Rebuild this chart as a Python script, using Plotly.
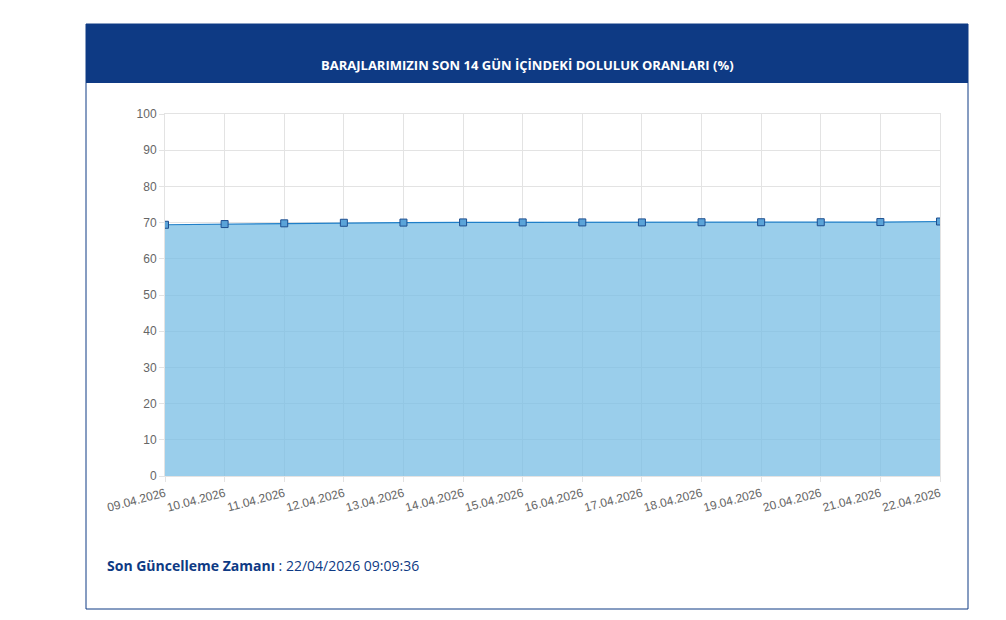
import plotly.graph_objects as go

dates = ["09.04.2026","10.04.2026","11.04.2026","12.04.2026","13.04.2026","14.04.2026","15.04.2026",
         "16.04.2026","17.04.2026","18.04.2026","19.04.2026","20.04.2026","21.04.2026","22.04.2026"]
values = [69.4, 69.6, 69.8, 69.95, 70.0, 70.05, 70.05, 70.05, 70.05, 70.1, 70.1, 70.1, 70.15, 70.3]
yticks = list(range(0, 101, 10))

W, H = 1006, 620
def px(x): return x / W
def py(y): return 1 - y / H

fig = go.Figure(go.Scatter(
    x=dates, y=values, mode="lines+markers", fill="tozeroy",
    fillcolor="rgba(120,190,228,0.75)",
    line=dict(color="#1f7fc8", width=1.2),
    marker=dict(symbol="square", size=7, color="#5aa3d8", line=dict(color="#1f4f8f", width=1)),
    hoverinfo="x+y"))

fig.update_layout(
    width=W, height=H, autosize=False, margin=dict(l=0, r=0, t=0, b=0, pad=0, autoexpand=False),
    paper_bgcolor="white", plot_bgcolor="white", showlegend=False,
    font=dict(family="Liberation Sans", color="#666", size=12),
    xaxis=dict(domain=[px(157), px(932)], range=[0, 13], type="category", automargin=False,
               showgrid=True, gridcolor="#e3e3e3", tickangle=-15, ticks="outside",
               ticklen=5, tickcolor="#e3e3e3", linecolor="#e3e3e3", showline=True, mirror=True,
               tickfont=dict(size=12, color="#666")),
    yaxis=dict(domain=[py(468), py(106)], range=[0, 100], tickvals=yticks, automargin=False,
               showgrid=True, gridcolor="#e3e3e3", ticks="outside", ticklen=5, tickcolor="#e3e3e3",
               linecolor="#e3e3e3", showline=True, mirror=True, zeroline=False,
               tickfont=dict(size=12, color="#666")),
    shapes=[
        dict(type="rect", xref="paper", yref="paper", x0=px(78), x1=px(960), y0=py(601), y1=py(16),
             line=dict(color="#0e3a84", width=1), fillcolor="rgba(0,0,0,0)", layer="below"),
        dict(type="rect", xref="paper", yref="paper", x0=px(78), x1=px(960), y0=py(75), y1=py(16),
             line=dict(width=0), fillcolor="#0e3a84", layer="below"),
    ],
    annotations=[
        dict(text="<b>BARAJLARIMIZIN SON 14 GÜN İÇİNDEKİ DOLULUK ORANLARI (%)</b>",
             xref="paper", yref="paper", x=px(519), y=py(46), showarrow=False,
             font=dict(family="Open Sans", size=13, color="white")),
        dict(text="<b>Son Güncelleme Zamanı</b> : 22/04/2026 09:09:36",
             xref="paper", yref="paper", x=px(97), y=py(569), xanchor="left", showarrow=False,
             font=dict(family="Open Sans", size=14, color="#0e3a84")),
    ])

fig.write_html("out.html", config={"responsive": False})
